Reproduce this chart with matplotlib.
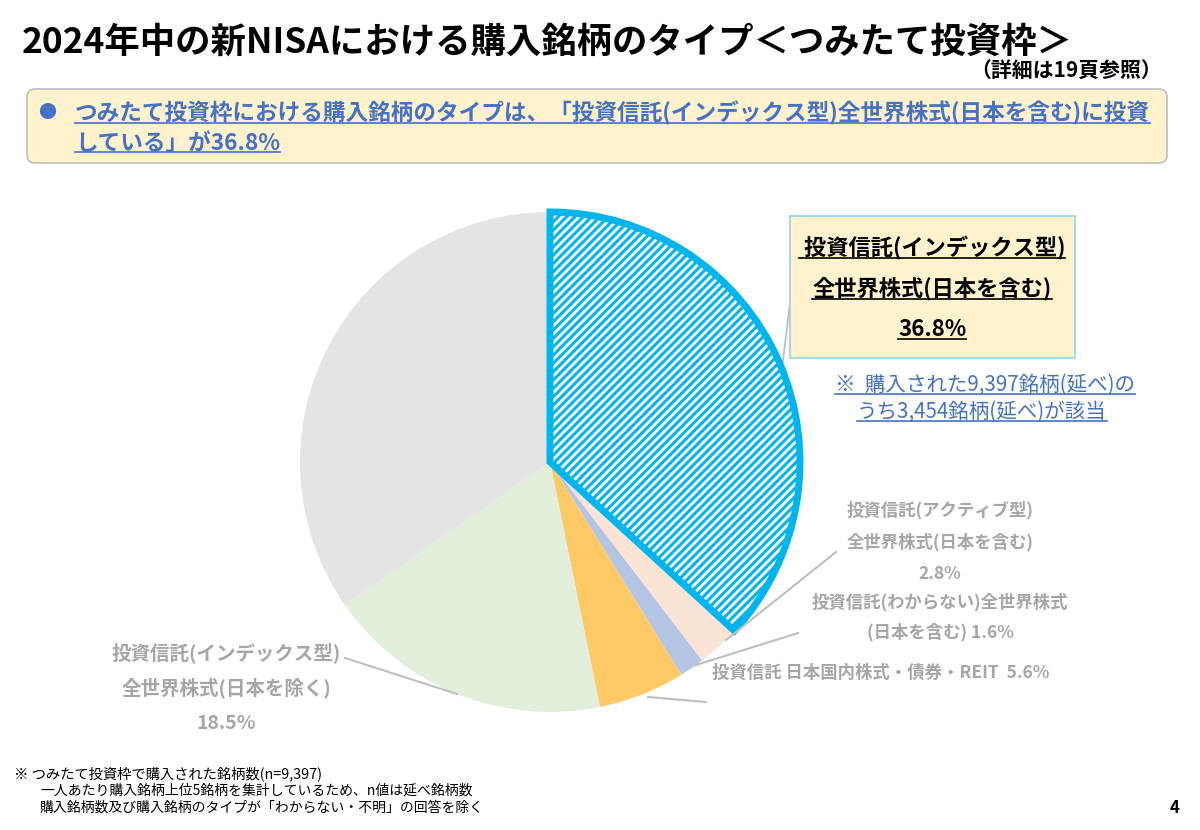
import matplotlib
matplotlib.use("Agg")
import matplotlib.pyplot as plt
from matplotlib.patches import FancyBboxPatch, Rectangle

plt.rcParams['font.family'] = ['Noto Sans CJK JP', 'DejaVu Sans']
plt.rcParams['hatch.linewidth'] = 2.2

# ---- data ----
categories = [
    "投資信託(インデックス型)全世界株式(日本を含む)",
    "投資信託(アクティブ型)全世界株式(日本を含む)",
    "投資信託(わからない)全世界株式(日本を含む)",
    "投資信託 日本国内株式・債券・REIT",
    "投資信託(インデックス型)全世界株式(日本を除く)",
    "その他",
]
values = [36.8, 2.8, 1.6, 5.6, 18.5, 34.7]
colors = ["white", "#FBE3D6", "#B4C5E4", "#FFC965", "#E2EFDA", "#E4E4E4"]

title = "2024年中の新NISAにおける購入銘柄のタイプ＜つみたて投資枠＞"
subtitle = "（詳細は19頁参照）"
summary_lines = ["つみたて投資枠における購入銘柄のタイプは、「投資信託(インデックス型)全世界株式(日本を含む)に投資",
                 "している」が36.8%"]
callout_lines = [" 投資信託(インデックス型)", "全世界株式(日本を含む)", "36.8%"]
note_lines = ["※  購入された9,397銘柄(延べ)の", "うち3,454銘柄(延べ)が該当"]
label_active = ["投資信託(アクティブ型)", "全世界株式(日本を含む)", "2.8%"]
label_unknown = ["投資信託(わからない)全世界株式", "(日本を含む) 1.6%"]
label_domestic = "投資信託 日本国内株式・債券・REIT  5.6%"
label_exjp = ["投資信託(インデックス型)", "全世界株式(日本を除く)", "18.5%"]
footnotes = ["※ つみたて投資枠で購入された銘柄数(n=9,397)",
             "一人あたり購入銘柄上位5銘柄を集計しているため、n値は延べ銘柄数",
             "購入銘柄数及び購入銘柄のタイプが「わからない・不明」の回答を除く"]

W, H = 1200, 830
fig = plt.figure(figsize=(12, 8.3), dpi=100)
ax = fig.add_axes([0, 0, 1, 1])

def Y(y):
    return H - y

GRAY_T = "#A6A6A6"
BLUE_T = "#4472C4"
LEAD = "#BFBFBF"

# pie
wedges, _ = ax.pie(values, colors=colors, startangle=90, counterclock=False,
                   center=(550, Y(462)), radius=250,
                   wedgeprops=dict(linewidth=0))
wedges[0].set_edgecolor("#00B4EE")
wedges[0].set_hatch("////")
wedges[0].set_linewidth(5)
wedges[0].set_zorder(3)

ax.set_xlim(0, W)
ax.set_ylim(0, H)
ax.set_aspect('auto')
ax.axis('off')

underline_items = []

def txt(x, y, s, underline=False, **kw):
    t = ax.text(x, Y(y), s, va='center', **kw)
    if underline:
        underline_items.append((t, kw.get('color', 'black')))
    return t

# title
txt(22, 42, title, fontsize=25.5, fontweight='bold', color='black', ha='left')
txt(1162, 71, subtitle, fontsize=15, fontweight='bold', color='black', ha='right')

# summary box
ax.add_patch(FancyBboxPatch((27, Y(163)), 1140, 74,
                            boxstyle="round,pad=0,rounding_size=8",
                            facecolor="#FFF2CC", edgecolor="#BFBFBF", linewidth=1.2))
txt(38, 113, "●", fontsize=13, color=BLUE_T, ha='left')
txt(75, 113, summary_lines[0], fontsize=16.3, fontweight='bold', color=BLUE_T,
    ha='left', underline=True)
txt(75, 143, summary_lines[1], fontsize=16.3, fontweight='bold', color=BLUE_T,
    ha='left', underline=True)

# callout box
ax.add_patch(Rectangle((790, Y(358)), 285, 142, facecolor="#FFF2CC",
                       edgecolor="#8ED8EA", linewidth=1.2, zorder=4))
for i, s in enumerate(callout_lines):
    txt(932, 248 + i * 41, s, fontsize=16, fontweight='bold', color='black',
        ha='center', underline=True, zorder=5)
ax.plot([790, 780], [Y(303), Y(385)], color=LEAD, lw=1.3, zorder=2)

# note
txt(835, 385, note_lines[0], fontsize=14.8, color=BLUE_T, ha='left', underline=True)
txt(857, 412, note_lines[1], fontsize=14.8, color=BLUE_T, ha='left', underline=True)

# small labels
for i, s in enumerate(label_active):
    txt(940, 510 + i * 32, s, fontsize=12.5, fontweight='bold', color=GRAY_T, ha='center')
for i, s in enumerate(label_unknown):
    txt(940, 602 + i * 30, s, fontsize=12.5, fontweight='bold', color=GRAY_T, ha='center')
txt(712, 673, label_domestic, fontsize=12.5, fontweight='bold', color=GRAY_T, ha='left')
for i, s in enumerate(label_exjp):
    txt(226, 653 + i * 35, s, fontsize=14, fontweight='bold', color=GRAY_T, ha='center')

# leader lines
ax.plot([836, 726], [Y(552), Y(640)], color=LEAD, lw=1.5, zorder=4)
ax.plot([798, 696], [Y(633), Y(665)], color=LEAD, lw=1.5, zorder=4)
ax.plot([706, 648], [Y(702), Y(697)], color=LEAD, lw=1.5, zorder=4)
ax.plot([345, 457], [Y(658), Y(694)], color=LEAD, lw=1.5, zorder=4)

# footnotes
txt(14, 774, footnotes[0], fontsize=10.3, color='black', ha='left')
txt(40, 791, footnotes[1], fontsize=10, color='black', ha='left')
txt(40, 808, footnotes[2], fontsize=10, color='black', ha='left')
txt(1180, 808, "4", fontsize=12, fontweight='bold', color='black', ha='right')

# underlines
fig.canvas.draw()
r = fig.canvas.get_renderer()
inv = ax.transData.inverted()
for t, c in underline_items:
    bb = t.get_window_extent(renderer=r)
    (x0, y0), (x1, y1) = inv.transform([(bb.x0, bb.y0), (bb.x1, bb.y1)])
    ax.plot([x0, x1], [y0 + 2, y0 + 2], color=c, lw=1.2, zorder=6)

fig.savefig("out.png", dpi=100, facecolor="white")
